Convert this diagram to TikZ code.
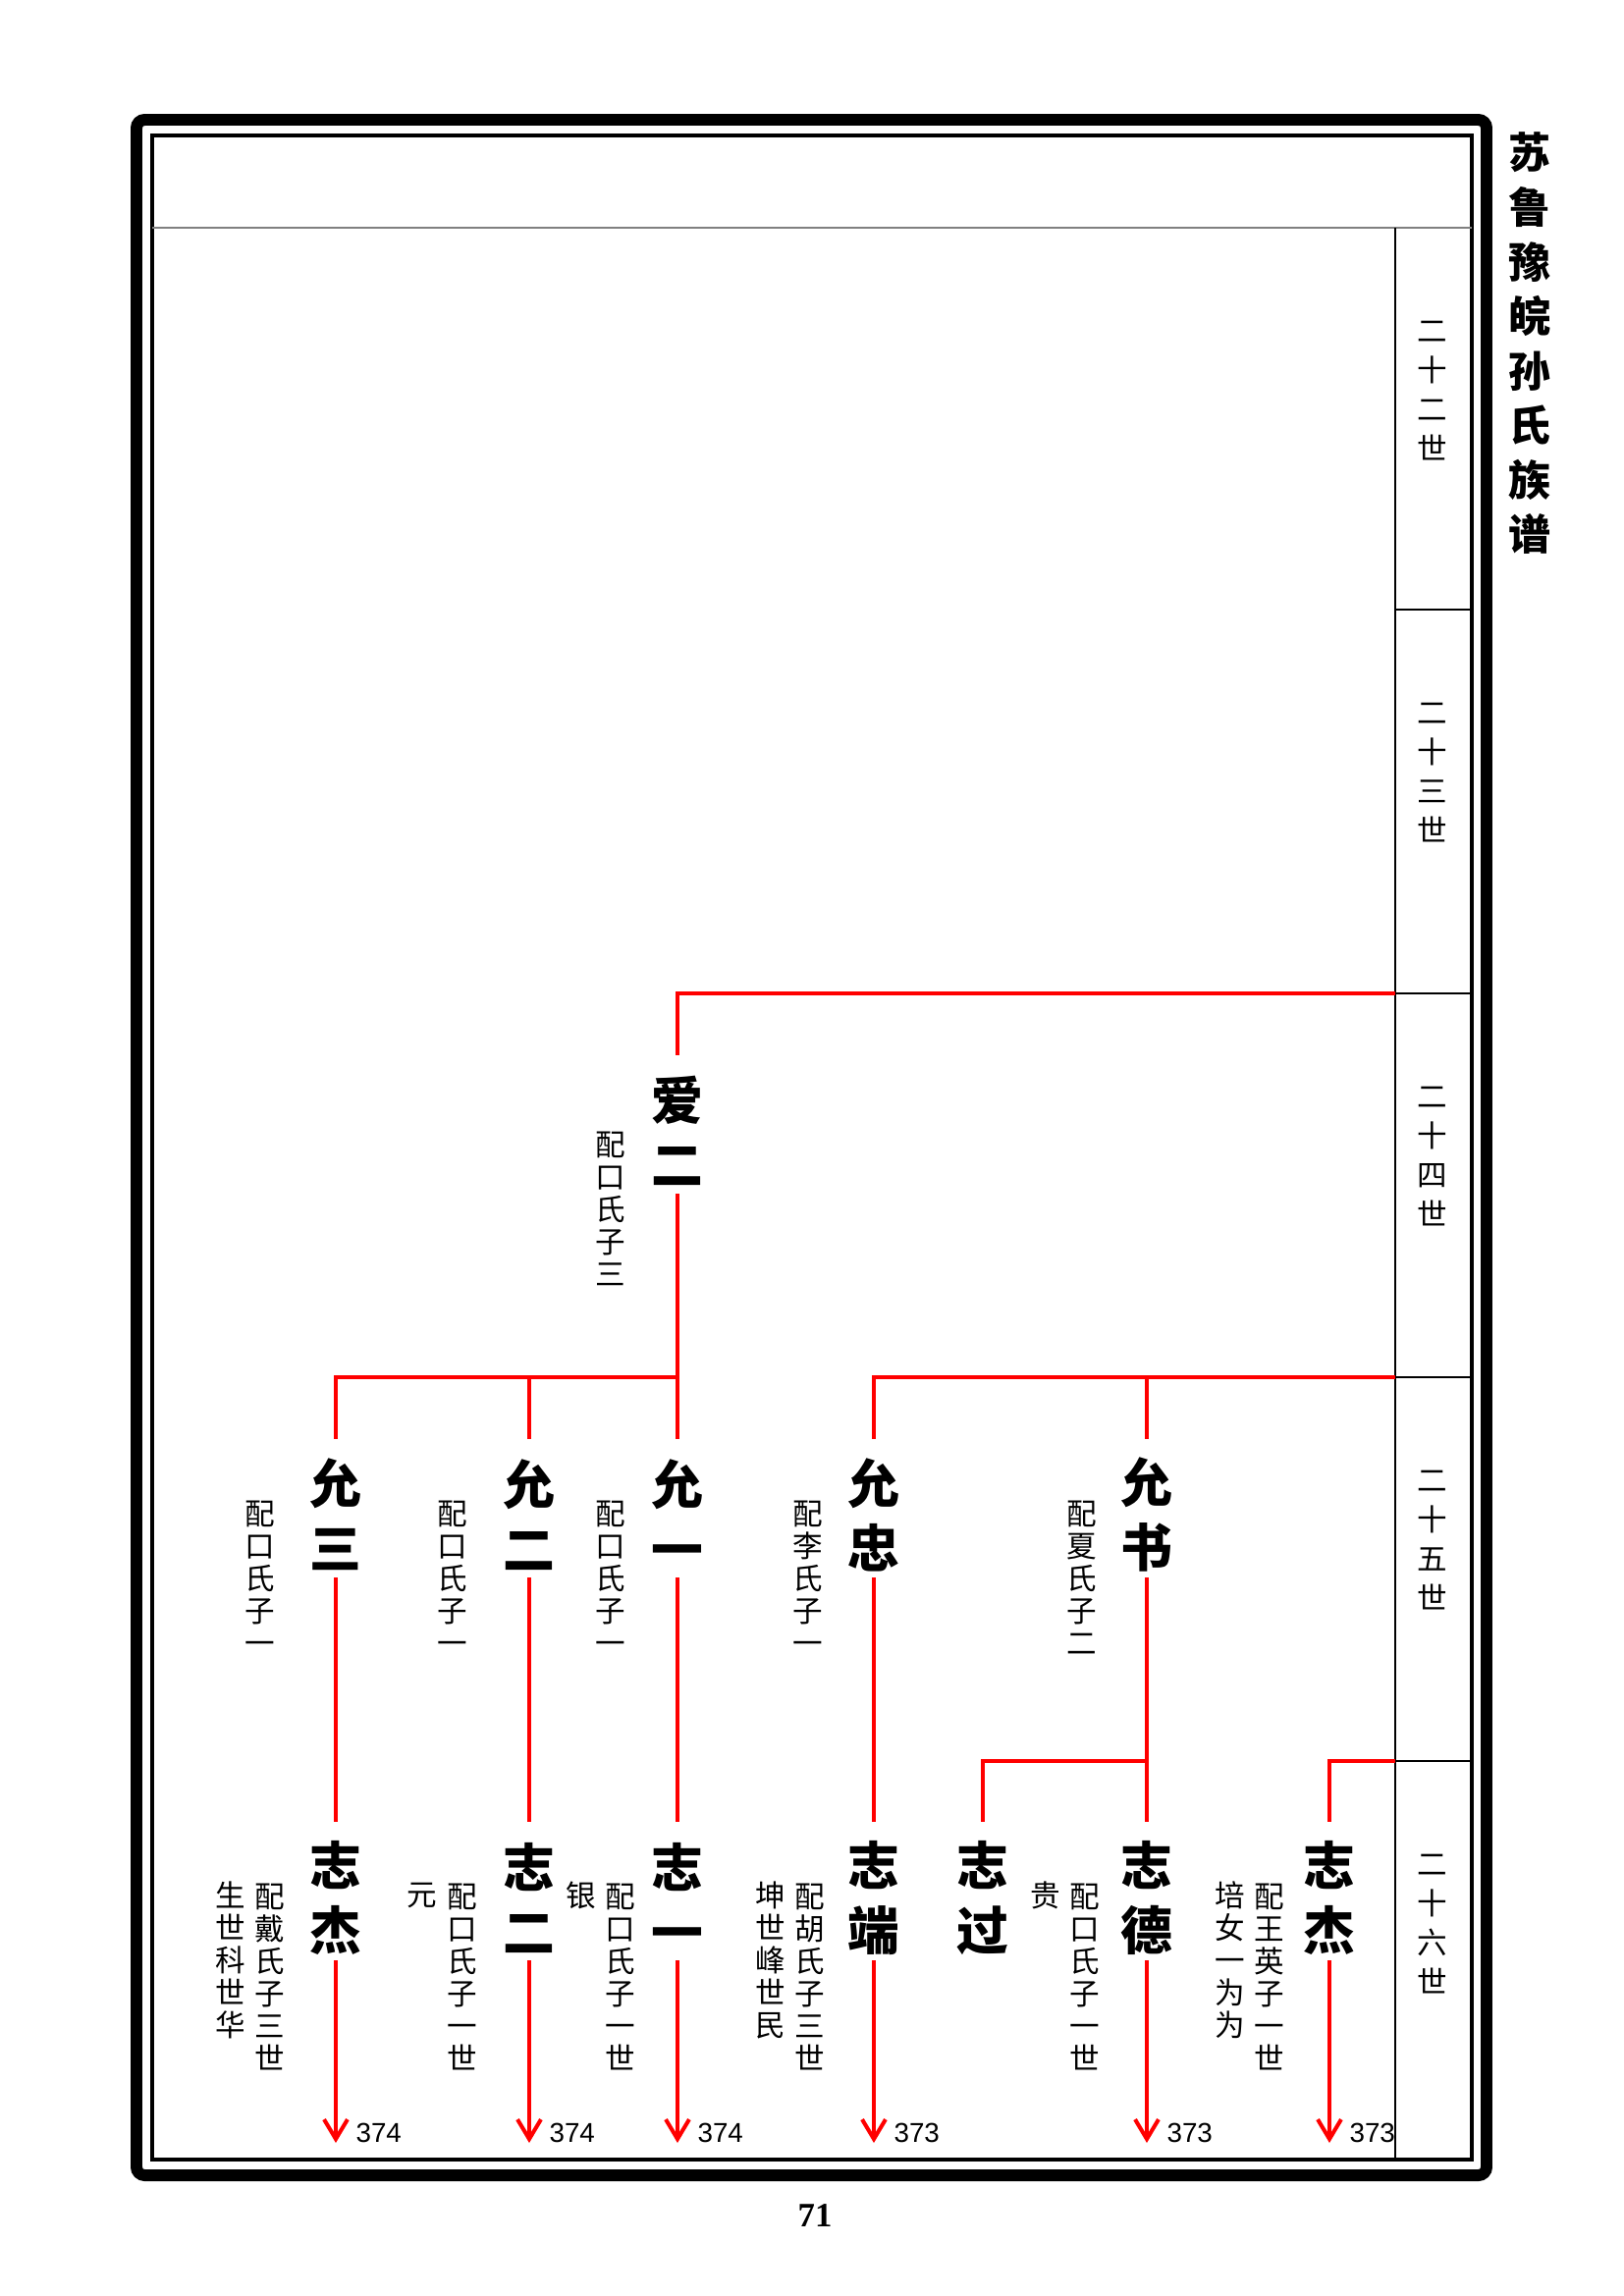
\documentclass[tikz,border=0pt]{standalone}
\usepackage{fontspec}
\setmainfont{Liberation Serif}
\newfontfamily\cjk{Noto Sans CJK SC}
\newfontfamily\arialf{Liberation Sans}
\usetikzlibrary{arrows.meta,calc}
\tikzset{
  redline/.style={draw=red, line width=1.45pt},
  arrowline/.style={redline, -{Straight Barb[length=7.2pt,width=8.6pt]}},
  thinline/.style={draw=black, line width=0.6pt},
  namebox/.style={font=\cjk\bfseries\fontsize{19pt}{23.75pt}\selectfont, align=center, inner sep=0pt},
  notebox/.style={font=\cjk\fontsize{11pt}{11.9pt}\selectfont, align=center, inner sep=0pt},
  genbox/.style={font=\cjk\fontsize{11pt}{14.4pt}\selectfont, align=center, inner sep=0pt},
  titlebox/.style={font=\cjk\bfseries\fontsize{15.5pt}{20pt}\selectfont, align=center, inner sep=0pt},
  refnum/.style={font=\arialf\fontsize{10pt}{12pt}\selectfont, anchor=west, inner sep=0pt},
  pagenum/.style={font=\bfseries\fontsize{12.5pt}{14pt}\selectfont, inner sep=0pt}
}
\begin{document}
\begin{tikzpicture}[x=0.359901pt, y=-0.359901pt]
\useasboundingbox (0,0) rectangle (1654,2339);
% frame
\draw[line width=4.3pt, rounded corners=3pt] (139,122) rectangle (1514,2216);
\draw[line width=1.45pt] (155,138) rectangle (1499,2200);
\draw[gray, line width=0.7pt] (155,232) -- (1499,232);
\draw[thinline] (1421,232) -- (1421,2200);
\foreach \yy in {621,1012,1403,1794} \draw[thinline] (1421,\yy) -- (1499,\yy);
% title
\node[titlebox] (title) at (1558,350) {苏\\鲁\\豫\\皖\\孙\\氏\\族\\谱};
% generation labels
\node[genbox] (g22) at (1459,398) {二\\十\\二\\世};
\node[genbox] (g23) at (1459,787) {二\\十\\三\\世};
\node[genbox] (g24) at (1459,1178) {二\\十\\四\\世};
\node[genbox] (g25) at (1459,1569) {二\\十\\五\\世};
\node[genbox] (g26) at (1459,1960) {二\\十\\六\\世};
% page number
\node[pagenum] (pg) at (830,2257) {71};
% names
\node[namebox] (ai2) at (690,1152) {爱\\二};
\node[namebox] (yan3) at (342,1543) {允\\三};
\node[namebox] (yan2) at (539,1543) {允\\二};
\node[namebox] (yan1) at (690,1543) {允\\一};
\node[namebox] (yanz) at (890,1543) {允\\忠};
\node[namebox] (yans) at (1168,1543) {允\\书};
\node[namebox] (zj1) at (342,1933) {志\\杰};
\node[namebox] (ze2) at (539,1933) {志\\二};
\node[namebox] (zy1) at (690,1933) {志\\一};
\node[namebox] (zd) at (890,1933) {志\\端};
\node[namebox] (zg) at (1001,1933) {志\\过};
\node[namebox] (zde) at (1168,1933) {志\\德};
\node[namebox] (zj2) at (1354,1933) {志\\杰};
% notes
\node[notebox] (nai2) at (622,1231) {配\\口\\氏\\子\\三};
\node[notebox] (nyan3) at (265,1607) {配\\口\\氏\\子\\一};
\node[notebox] (nyan2) at (461,1607) {配\\口\\氏\\子\\一};
\node[notebox] (nyan1) at (622,1607) {配\\口\\氏\\子\\一};
\node[notebox] (nyanz) at (823,1607) {配\\李\\氏\\子\\一};
\node[notebox] (nyans) at (1102,1607) {配\\夏\\氏\\子\\二};
\node[notebox] (nzj1a) at (275,2014) {配\\戴\\氏\\子\\三\\世};
\node[notebox] (nzj1b) at (235,1997) {生\\世\\科\\世\\华};
\node[notebox] (nze2a) at (471,2014) {配\\口\\氏\\子\\一\\世};
\node[notebox] (nze2b) at (430,1931) {元};
\node[notebox] (nzy1a) at (632,2014) {配\\口\\氏\\子\\一\\世};
\node[notebox] (nzy1b) at (592,1931) {银};
\node[notebox] (nzda) at (825,2014) {配\\胡\\氏\\子\\三\\世};
\node[notebox] (nzdb) at (785,1997) {坤\\世\\峰\\世\\民};
\node[notebox] (nzdea) at (1105,2014) {配\\口\\氏\\子\\一\\世};
\node[notebox] (nzdeb) at (1065,1931) {贵};
\node[notebox] (nzj2a) at (1293,2014) {配\\王\\英\\子\\一\\世};
\node[notebox] (nzj2b) at (1253,1997) {培\\女\\一\\为\\为};
% connector end points
\foreach \n in {ai2,yan3,yan2,yan1,yanz,yans,zj1,ze2,zy1,zd,zg,zde,zj2}{
  \coordinate (\n-t) at ($(\n.center)+(0,-77)$);
  \coordinate (\n-b) at ($(\n.center)+(0,64)$);
}
\coordinate (c24) at (1421,1012);
\coordinate (h25) at (690,1403);
\coordinate (c25) at (1421,1403);
\coordinate (h26) at (1168,1794);
\coordinate (c26) at (1421,1794);
% connectors
\draw[redline] (c24) -| (ai2-t);
\draw[redline] (ai2-b) -- (yan1-t);
\draw[redline] (h25) -| (yan3-t);
\draw[redline] (h25) -| (yan2-t);
\draw[redline] (c25) -| (yanz-t);
\draw[redline] (c25) -| (yans-t);
\draw[redline] (yan3-b) -- (zj1-t);
\draw[redline] (yan2-b) -- (ze2-t);
\draw[redline] (yan1-b) -- (zy1-t);
\draw[redline] (yanz-b) -- (zd-t);
\draw[redline] (yans-b) -- (zde-t);
\draw[redline] (h26) -| (zg-t);
\draw[redline] (c26) -| (zj2-t);
% arrows to later pages
\foreach \n/\xx/\pp in {zj1/342/374, ze2/539/374, zy1/690/374, zd/890/373, zde/1168/373, zj2/1354/373}{
  \coordinate (\n-e) at (\xx,2183);
  \draw[arrowline] (\n-b) -- (\n-e);
  \node[refnum] (\n-ref) at (\xx+20,2173) {\pp};
}
\end{tikzpicture}
\end{document}
